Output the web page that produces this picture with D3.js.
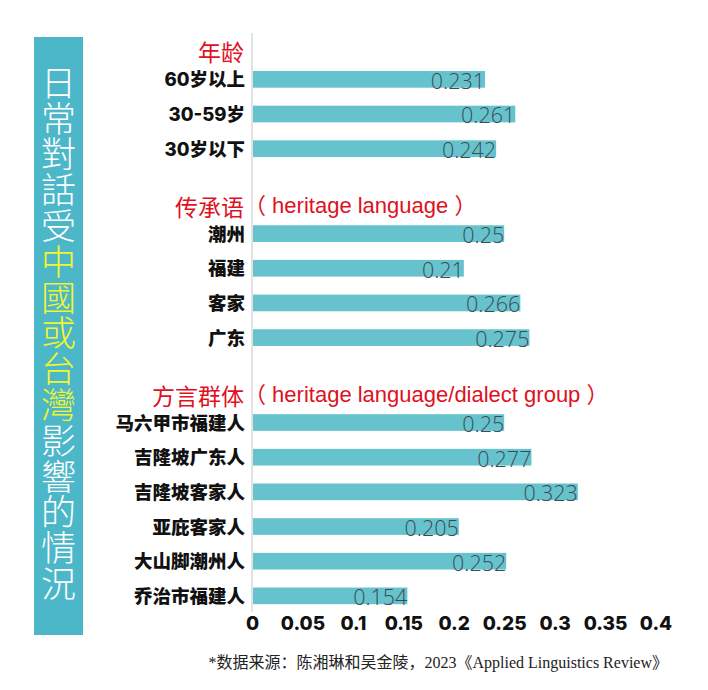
<!DOCTYPE html>
<html>
<head>
<meta charset="utf-8">
<script src="https://cdn.jsdelivr.net/npm/d3@7"></script>
<style>
  html, body { margin: 0; padding: 0; background: #ffffff; }
  svg { display: block; }
</style>
</head>
<body>
<svg id="chart" width="708" height="690"></svg>
<script>
// ---- data ----
const groupTitles = ["年龄", "传承语", "方言群体"];
const groupSuffixes = ["", "（ heritage language ）", "（ heritage language/dialect group ）"];
const ageCategories = ["60岁以上", "30-59岁", "30岁以下"];
const ageValues = [0.231, 0.261, 0.242];
const heritageCategories = ["潮州", "福建", "客家", "广东"];
const heritageValues = [0.25, 0.21, 0.266, 0.275];
const dialectCategories = ["马六甲市福建人", "吉隆坡广东人", "吉隆坡客家人", "亚庇客家人", "大山脚潮州人", "乔治市福建人"];
const dialectValues = [0.25, 0.277, 0.323, 0.205, 0.252, 0.154];
const tickValues = [0, 0.05, 0.1, 0.15, 0.2, 0.25, 0.3, 0.35, 0.4];
const titleParts = ["日常對話受", "中國或台灣", "影響的情況"];
const titleHighlight = [false, true, false];
const sourceNote = "*数据来源：陈湘琳和吴金陵，2023《Applied Linguistics Review》";

// ---- build rows ----
const groups = [
  { title: groupTitles[0], suffix: groupSuffixes[0], cats: ageCategories, vals: ageValues },
  { title: groupTitles[1], suffix: groupSuffixes[1], cats: heritageCategories, vals: heritageValues },
  { title: groupTitles[2], suffix: groupSuffixes[2], cats: dialectCategories, vals: dialectValues }
];
const GROUP_GAP = 1.45; // extra slots between groups
const rows = [];
let idx = 0;
groups.forEach((g, gi) => {
  g.start = idx + gi * GROUP_GAP;
  g.cats.forEach((c, i) => {
    rows.push({ cat: c, val: g.vals[i], pos: idx + gi * GROUP_GAP });
    idx++;
  });
});
const lastPos = d3.max(rows, d => d.pos);

// ---- scales ----
const svg = d3.select("#chart");
const x = d3.scaleLinear().domain([0, 0.4]).range([252, 655.5]);
const y = d3.scaleLinear().domain([0, lastPos]).range([71, 587.5]);
const barH = 16.7;

// ---- left title box ----
svg.append("rect")
  .attr("x", 34).attr("y", 37).attr("width", 49).attr("height", 598)
  .attr("fill", "#4cb7c9");
const title = svg.append("text")
  .attr("x", 58.5)
  .attr("y", 65)
  .style("writing-mode", "vertical-rl")
  .attr("text-anchor", "start")
  .attr("font-family", "'Noto Sans CJK TC', 'Noto Sans CJK SC', sans-serif")
  .attr("font-weight", 300)
  .attr("font-size", 35)
  .attr("letter-spacing", 0.8);
titleParts.forEach((p, i) => {
  title.append("tspan")
    .attr("fill", titleHighlight[i] ? "#f4f62a" : "#ffffff")
    .text(p);
});

// ---- vertical axis line ----
svg.append("line")
  .attr("x1", x(0)).attr("x2", x(0))
  .attr("y1", 33).attr("y2", 612)
  .attr("stroke", "#d9d9d9").attr("stroke-width", 1.5);

// ---- bars ----
svg.append("g").selectAll("rect").data(rows).join("rect")
  .attr("x", x(0) + 1)
  .attr("y", d => y(d.pos))
  .attr("width", d => x(d.val) - x(0) - 1)
  .attr("height", barH)
  .attr("fill", "#66c3cd");

// ---- value labels ----
svg.append("g").selectAll("text").data(rows).join("text")
  .attr("x", d => x(d.val))
  .attr("y", d => y(d.pos) + barH + 1)
  .attr("text-anchor", "end")
  .attr("font-family", "'Open Sans', 'DejaVu Sans', sans-serif")
  .attr("font-weight", 300)
  .attr("font-size", 21.5)
  .attr("fill", "#3c4b52")
  .text(d => String(d.val));

// ---- category labels ----
svg.append("g").selectAll("text").data(rows).join("text")
  .attr("x", 245)
  .attr("y", d => y(d.pos) + barH / 2)
  .attr("text-anchor", "end")
  .attr("dominant-baseline", "central")
  .attr("font-family", "Inter, 'Noto Sans CJK SC', sans-serif")
  .attr("font-weight", 800)
  .attr("font-size", 18.5)
  .attr("fill", "#111111")
  .text(d => d.cat);

// ---- group headers ----
const hdr = svg.append("g");
groups.forEach(g => {
  const cy = y(g.start) + barH / 2 - 28;
  hdr.append("text")
    .attr("x", 244).attr("y", cy)
    .attr("text-anchor", "end")
    .attr("dominant-baseline", "central")
    .attr("font-family", "'Noto Sans CJK SC', sans-serif")
    .attr("font-size", 23)
    .attr("fill", "#e0101e")
    .text(g.title);
  if (g.suffix) {
    hdr.append("text")
      .attr("x", 244).attr("y", cy)
      .attr("text-anchor", "start")
      .attr("dominant-baseline", "central")
      .attr("font-family", "'Liberation Sans', Arial, 'Noto Sans CJK SC', sans-serif")
      .attr("font-size", 22)
      .attr("fill", "#e0101e")
      .text(g.suffix);
  }
});

// ---- x axis ----
const xAxis = d3.axisBottom(x).tickValues(tickValues).tickSize(0).tickPadding(0)
  .tickFormat(d3.format(""));
const ax = svg.append("g").attr("transform", "translate(0,616)").call(xAxis);
ax.select(".domain").remove();
ax.selectAll("text")
  .attr("font-family", "Inter, 'DejaVu Sans', sans-serif")
  .attr("font-weight", 800)
  .attr("font-size", 19)
  .attr("fill", "#111111");

// ---- source note ----
svg.append("text")
  .attr("x", 668).attr("y", 668)
  .attr("text-anchor", "end")
  .attr("font-family", "'Liberation Serif', 'DejaVu Serif', 'Noto Sans CJK SC', serif")
  .attr("font-size", 16)
  .attr("fill", "#222222")
  .text(sourceNote);
</script>
</body>
</html>
